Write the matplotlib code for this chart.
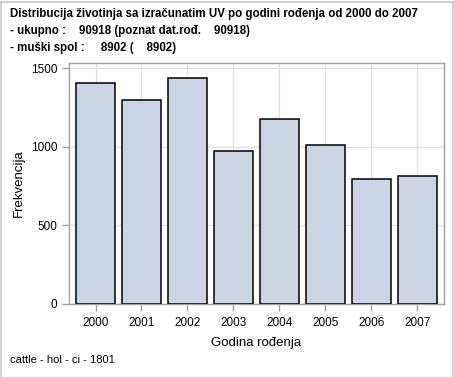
import matplotlib
matplotlib.use('Agg')
import matplotlib.pyplot as plt
from matplotlib.patches import Rectangle

# data
years = ['2000', '2001', '2002', '2003', '2004', '2005', '2006', '2007']
counts = [1405, 1298, 1437, 972, 1176, 1010, 794, 813]
y_ticks = [0, 500, 1000, 1500]

title_lines = [
    'Distribucija životinja sa izračunatim UV po godini rođenja od 2000 do 2007',
    '- ukupno :    90918 (poznat dat.rođ.    90918)',
    '- muški spol :     8902 (    8902)',
]
footnote = 'cattle - hol - ci - 1801'

plt.rcParams['font.family'] = ['Liberation Sans', 'DejaVu Sans']

W, H = 454, 378
fig = plt.figure(figsize=(W / 100, H / 100), dpi=100)

# axes box in pixels: left 69, right 444, top 63, bottom 304
ax = fig.add_axes([69 / W, 1 - 304 / H, (444 - 69) / W, (304 - 63) / H])

x = list(range(len(years)))
ax.bar(x, counts, width=0.85, color='#cbd5e5', edgecolor='black', linewidth=1.1, zorder=3)

ax.set_xlim(-0.577, len(years) - 1 + 0.58)
ax.set_ylim(0, 1532)
ax.set_xticks(x)
ax.set_xticklabels(years)
ax.set_yticks(y_ticks)

ax.grid(True, color='#e3e3e3', linewidth=1.0, zorder=0)
for s in ax.spines.values():
    s.set_color('#a0a2a6')
    s.set_linewidth(1.0)
ax.tick_params(colors='#a0a2a6', labelcolor='black', labelsize=8.5, length=5, width=1)
ax.tick_params(axis='x', pad=4)

ax.set_xlabel('Godina rođenja', fontsize=9.5, labelpad=6)
ax.set_ylabel('Frekvencija', fontsize=9.5, labelpad=4)

for i, line in enumerate(title_lines):
    fig.text(10 / W, 1 - (14 + 17 * i) / H, line, fontsize=8.3, fontweight='bold',
             ha='left', va='center')

fig.text(10 / W, 1 - 360 / H, footnote, fontsize=8, ha='left', va='center')

# light outer border around the image
fig.patches.append(Rectangle((0.5 / W, 0.5 / H), (W - 2) / W, (H - 2) / H,
                             transform=fig.transFigure, fill=False,
                             edgecolor='#d0d0d0', linewidth=1.5))

fig.savefig('out.png', dpi=100)
plt.close(fig)
